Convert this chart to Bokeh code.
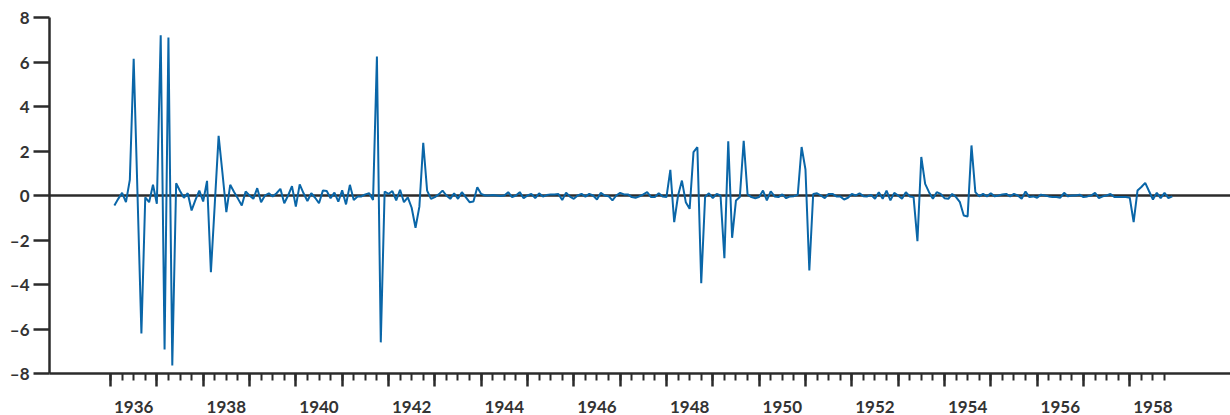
from bokeh.plotting import figure
from bokeh.models import (Range1d, FixedTicker, LinearAxis, CustomJSTickFormatter, Span)
from bokeh.embed import file_html
from bokeh.resources import INLINE

# Monthly series: Feb 1936 .. Dec 1958
start_year = 1936
start_month = 2
values = [
    -0.45, -0.15, 0.12, -0.30, 0.70, 6.15, 0.00, -6.20, -0.08, -0.30,
    0.48, -0.37, 7.20, -6.92, 7.10, -7.64, 0.55, 0.20, -0.10, 0.10,
    -0.67, -0.20, 0.22, -0.27, 0.66, -3.45, -0.40, 2.68, 1.00, -0.75,
    0.48, 0.16, -0.14, -0.45, 0.18, 0.00, -0.15, 0.33, -0.30, 0.00,
    0.10, -0.05, 0.10, 0.30, -0.35, 0.00, 0.42, -0.50, 0.50, 0.10,
    -0.25, 0.10, -0.10, -0.35, 0.22, 0.20, -0.12, 0.13, -0.28, 0.23,
    -0.40, 0.48, -0.20, -0.05, -0.04, 0.05, 0.10, -0.20, 6.25, -6.60,
    0.18, 0.07, 0.20, -0.22, 0.26, -0.30, -0.08, -0.55, -1.45, -0.50,
    2.37, 0.22, -0.15, -0.07, 0.05, 0.22, 0.00, -0.15, 0.10, -0.15,
    0.15, -0.07, -0.30, -0.27, 0.37, 0.07, 0.00, 0.00, 0.02, 0.00,
    -0.02, 0.00, 0.15, -0.07, 0.00, 0.15, -0.12, 0.00, 0.07, -0.12,
    0.10, -0.05, 0.02, 0.05, 0.05, 0.07, -0.20, 0.13, -0.05, -0.15,
    0.00, 0.07, -0.05, 0.07, 0.00, -0.18, 0.12, 0.00, -0.03, -0.22,
    0.00, 0.12, 0.05, 0.05, -0.07, -0.10, -0.04, 0.05, 0.15, -0.07,
    -0.07, 0.10, -0.05, -0.07, 1.15, -1.20, 0.00, 0.67, -0.30, -0.60,
    1.95, 2.17, -3.94, -0.07, 0.10, -0.12, 0.07, 0.00, -2.82, 2.44,
    -1.90, -0.22, -0.07, 2.46, 0.05, -0.07, -0.12, -0.07, 0.22, -0.22,
    0.19, -0.04, -0.07, 0.05, -0.12, -0.04, -0.03, 0.03, 2.18, 1.17,
    -3.37, 0.07, 0.10, 0.00, -0.12, 0.07, 0.07, -0.04, -0.04, -0.18,
    -0.10, 0.07, 0.00, 0.10, -0.03, -0.04, 0.03, -0.15, 0.15, -0.15,
    0.22, -0.22, 0.12, 0.00, -0.15, 0.15, -0.04, -0.07, -2.05, 1.73,
    0.52, 0.15, -0.15, 0.15, 0.07, -0.12, -0.15, 0.07, -0.07, -0.30,
    -0.90, -0.94, 2.25, 0.15, -0.04, 0.07, -0.04, 0.10, -0.04, 0.00,
    0.05, 0.07, -0.04, 0.07, 0.00, -0.15, 0.18, -0.07, -0.04, -0.10,
    0.04, 0.00, -0.04, -0.07, -0.07, -0.10, 0.12, -0.04, 0.00, 0.00,
    0.04, -0.07, -0.04, 0.00, 0.12, -0.12, -0.04, 0.00, 0.07, -0.07,
    -0.07, -0.07, -0.07, -0.10, -1.20, 0.22, 0.38, 0.57, 0.19, -0.18,
    0.12, -0.12, 0.12, -0.12, -0.04,
]
dates = [start_year + (start_month - 1 + i) / 12 for i in range(len(values))]

year_ticks = list(range(1936, 1959))
quarter_ticks = [y + q / 4 for y in range(1936, 1959) for q in range(4)]
label_years = list(range(1936, 1960, 2))
y_ticks = [-8, -6, -4, -2, 0, 2, 4, 6, 8]

AX = "#2b2b2b"
TXT = "#333333"
FONT = "Lato"

p = figure(width=1230, height=415, output_backend="svg", toolbar_location=None,
           x_range=Range1d(1934.683, 1960.174), y_range=Range1d(-8, 8),
           min_border_left=49, min_border_right=0, min_border_top=17, min_border_bottom=42,
           x_axis_type=None, y_axis_type=None)
p.outline_line_color = None
p.xgrid.visible = False
p.ygrid.visible = False

# y axis
ya = LinearAxis(ticker=FixedTicker(ticks=y_ticks, minor_ticks=[]),
                formatter=CustomJSTickFormatter(code="return tick < 0 ? '\u2013' + Math.abs(tick) : String(tick);"))
ya.axis_line_color = AX
ya.axis_line_width = 2.5
ya.major_tick_line_color = AX
ya.major_tick_line_width = 2.5
ya.major_tick_in = 0
ya.major_tick_out = 16
ya.minor_tick_line_color = None
ya.major_label_standoff = 4
ya.major_label_text_font = FONT
ya.major_label_text_font_style = "bold"
ya.major_label_text_font_size = "17px"
ya.major_label_text_color = TXT
p.add_layout(ya, "left")

# x axis: tick marks
xa = LinearAxis(ticker=FixedTicker(ticks=year_ticks, minor_ticks=quarter_ticks),
                formatter=CustomJSTickFormatter(code="return '';"))
xa.axis_line_color = AX
xa.axis_line_width = 2.5
xa.major_tick_line_color = AX
xa.major_tick_line_width = 2.5
xa.major_tick_in = 0
xa.major_tick_out = 13
xa.minor_tick_line_color = AX
xa.minor_tick_line_width = 2
xa.minor_tick_in = 0
xa.minor_tick_out = 7
xa.major_label_standoff = 0
xa.major_label_text_font_size = "0px"
p.add_layout(xa, "below")

# x axis: labels centred on mid-year
xl = LinearAxis(ticker=FixedTicker(ticks=[y + 0.5 for y in label_years], minor_ticks=[]),
                formatter=CustomJSTickFormatter(code="return String(Math.floor(tick));"))
xl.axis_line_color = None
xl.major_tick_line_color = None
xl.minor_tick_line_color = None
xl.major_tick_in = 0
xl.major_tick_out = 0
xl.major_label_standoff = 14
xl.major_label_text_font = FONT
xl.major_label_text_font_style = "bold"
xl.major_label_text_font_size = "17px"
xl.major_label_text_color = TXT
p.add_layout(xl, "below")

zero = Span(location=0, dimension="width", line_color=AX, line_width=2.5, level="underlay")
p.add_layout(zero)

p.line(dates, values, line_color="#0a66a8", line_width=2)

open("out.html", "w").write(file_html(p, INLINE))
